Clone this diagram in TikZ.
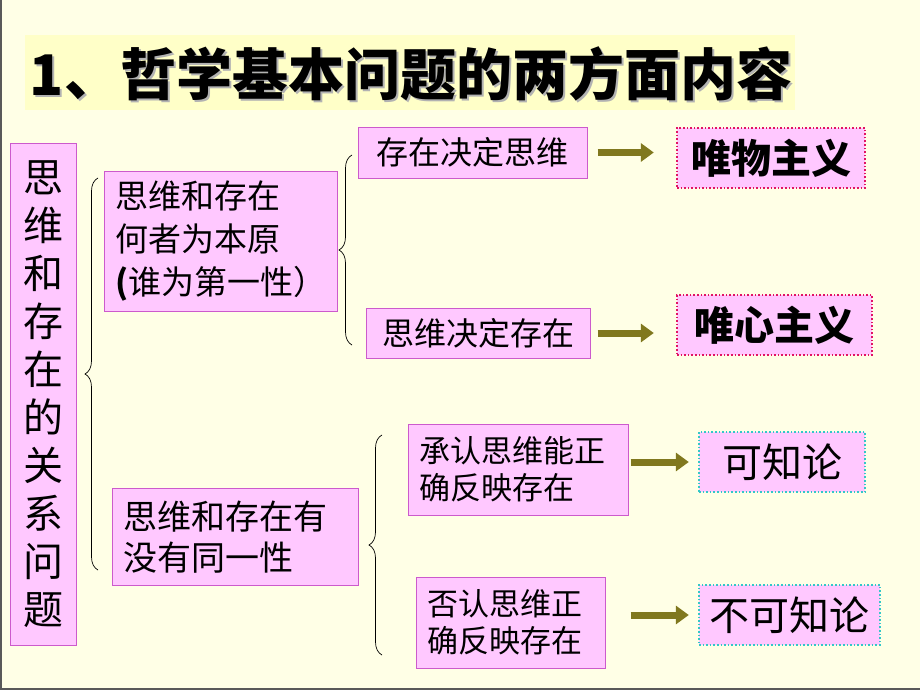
\documentclass[tikz,border=0pt]{standalone}
\usepackage{fontspec}
\setmainfont{Noto Sans CJK SC}
\usetikzlibrary{decorations.pathreplacing,arrows.meta}
\definecolor{bgyellow}{RGB}{255,255,230}
\definecolor{bandyellow}{RGB}{255,255,200}
\definecolor{boxfill}{RGB}{255,200,255}
\definecolor{boxline}{RGB}{204,90,204}
\definecolor{redline}{RGB}{225,20,100}
\definecolor{tealline}{RGB}{51,200,200}
\definecolor{arrowolive}{RGB}{128,120,30}
\tikzset{
  pbox/.style={draw=boxline, line width=1pt, fill=boxfill, inner sep=0pt, align=left, anchor=center},
  resbox/.style={pbox, draw=redline, dash pattern=on 1.6pt off 2pt, line width=2.4pt, font=\bfseries\fontsize{40}{48}\selectfont},
  knowbox/.style={pbox, draw=tealline, dash pattern=on 1.6pt off 2pt, line width=2.4pt, font=\fontsize{40}{48}\selectfont},
  bigarrow/.style={draw=arrowolive, line width=7pt, -{Triangle[length=13pt,width=18pt]}},
  curly/.style={draw=black, line width=0.7pt, decorate, decoration={brace, amplitude=13pt}}
}
\begin{document}
\begin{tikzpicture}[x=1pt,y=-1pt]
\useasboundingbox (0,0) rectangle (920,690);
\fill[bgyellow] (0,0) rectangle (920,690);
\draw[gray!70!black, line width=2pt] (1,0) -- (1,689) -- (920,689);
% title band
\fill[bandyellow] (25,35) rectangle (795,110);
\node[gray!60, anchor=center, font=\bfseries\fontsize{56}{60}\selectfont] (titleshadow) at (413,76) {1、哲学基本问题的两方面内容};
\node[black, anchor=center, font=\bfseries\fontsize{56}{60}\selectfont] (title) at (411,74) {1、哲学基本问题的两方面内容};
% left vertical box
\node[pbox, minimum width=66pt, minimum height=502pt, align=center, font=\fontsize{40}{48}\selectfont] (left) at (43,394)
  {思\\维\\和\\存\\在\\的\\关\\系\\问\\题};
% second column
\node[pbox, minimum width=233pt, minimum height=140pt, text width=211pt, font=\fontsize{33}{43}\selectfont] (qa) at (220.5,241)
  {思维和存在\\何者为本原\\\textbf{(}谁为第一性）};
\node[pbox, minimum width=246pt, minimum height=97pt, text width=224pt, font=\fontsize{34}{41}\selectfont] (qb) at (235,537)
  {思维和存在有\\没有同一性};
% third column
\node[pbox, minimum width=229pt, minimum height=51pt, font=\fontsize{32}{40}\selectfont] (s1) at (472.5,152.5) {存在决定思维};
\node[pbox, minimum width=224pt, minimum height=50pt, font=\fontsize{32}{40}\selectfont] (s2) at (478,333) {思维决定存在};
\node[pbox, minimum width=220pt, minimum height=91pt, text width=198pt, font=\fontsize{31}{37}\selectfont] (s3) at (518,469.5) {承认思维能正\\确反映存在};
\node[pbox, minimum width=189pt, minimum height=91pt, text width=167pt, font=\fontsize{31}{37}\selectfont] (s4) at (510.5,622.5) {否认思维正\\确反映存在};
% results
\node[resbox, minimum width=188pt, minimum height=60pt] (m1) at (771,158) {唯物主义};
\node[resbox, minimum width=195pt, minimum height=60pt] (m2) at (774.5,325) {唯心主义};
\node[knowbox, minimum width=166pt, minimum height=60pt] (k1) at (782,462) {可知论};
\node[knowbox, minimum width=181pt, minimum height=60pt] (k2) at (789.5,615) {不可知论};
% braces
\coordinate (b1bot) at (98,570);
\coordinate (b1top) at (98,178);
\coordinate (b2bot) at (352,345);
\coordinate (b2top) at (352,155);
\coordinate (b3bot) at (382,655);
\coordinate (b3top) at (382,435);
\draw[curly] (b1bot) -- (b1top);
\draw[curly] (b2bot) -- (b2top);
\draw[curly] (b3bot) -- (b3top);
% arrows
\draw[bigarrow, shorten <=10pt, shorten >=22pt] (s1.east) -- (s1.east -| m1.west);
\draw[bigarrow, shorten <=7pt, shorten >=22pt] (s2.east) -- (s2.east -| m2.west);
\draw[bigarrow, shorten <=2pt, shorten >=9pt] (s3.east |- k1.west) -- (k1.west);
\draw[bigarrow, shorten <=25pt, shorten >=9pt] (s4.east |- k2.west) -- (k2.west);
\end{tikzpicture}
\end{document}
